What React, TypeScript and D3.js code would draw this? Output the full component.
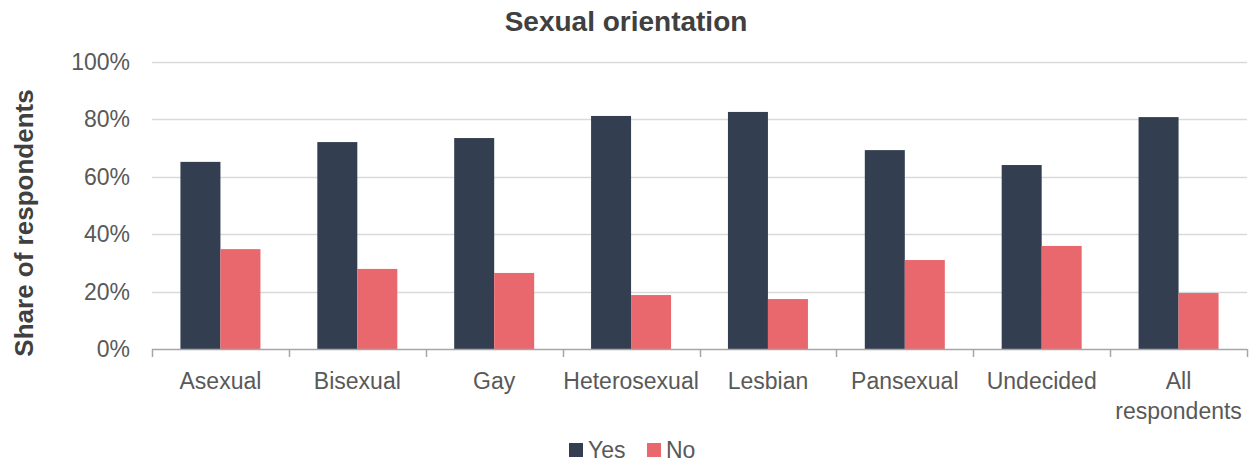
import { useEffect, useRef } from "react";
import * as d3 from "d3";

const WIDTH = 1256;
const HEIGHT = 463;
const MARGIN = { top: 62, right: 9, bottom: 114, left: 152 };

const categories = [
  "Asexual",
  "Bisexual",
  "Gay",
  "Heterosexual",
  "Lesbian",
  "Pansexual",
  "Undecided",
  "All respondents",
];
const yesValues = [65.2, 72.1, 73.5, 81.2, 82.6, 69.3, 64.1, 80.8];
const noValues = [34.8, 27.9, 26.5, 18.8, 17.4, 31.0, 35.9, 19.5];
const seriesNames = ["Yes", "No"];
const yTicks = [0, 20, 40, 60, 80, 100];

const COLORS: Record<string, string> = { Yes: "#333f50", No: "#e9686e" };
const FONT = "'Liberation Sans', Arial, sans-serif";
const TEXT_COLOR = "#595959";

export default function App() {
  const xAxisRef = useRef<SVGGElement>(null);
  const boundsWidth = WIDTH - MARGIN.left - MARGIN.right;
  const boundsHeight = HEIGHT - MARGIN.top - MARGIN.bottom;

  const xScale = d3.scaleBand().domain(categories).range([0, boundsWidth]);
  const groupWidth = 80;
  const xInner = d3
    .scaleBand()
    .domain(seriesNames)
    .range([(xScale.bandwidth() - groupWidth) / 2, (xScale.bandwidth() + groupWidth) / 2]);
  const yScale = d3.scaleLinear().domain([0, 100]).range([boundsHeight, 0]);

  useEffect(() => {
    document.body.style.margin = "0";
    const g = d3.select(xAxisRef.current);
    g.selectAll("*").remove();
    // category boundary ticks
    const bounds = d3.range(categories.length + 1).map((i) => i * xScale.step());
    g.append("line")
      .attr("x1", 0)
      .attr("x2", boundsWidth)
      .attr("y1", 0.5)
      .attr("y2", 0.5)
      .attr("stroke", "#a6a6a6")
      .attr("stroke-width", 1.5);
    g.selectAll("line.tick")
      .data(bounds)
      .join("line")
      .attr("class", "tick")
      .attr("x1", (d) => Math.round(d) + 0.5)
      .attr("x2", (d) => Math.round(d) + 0.5)
      .attr("y1", 0)
      .attr("y2", 8)
      .attr("stroke", "#a6a6a6")
      .attr("stroke-width", 1.5);
    g.selectAll("text.cat")
      .data(categories)
      .join("text")
      .attr("class", "cat")
      .attr("x", (d) => (xScale(d) ?? 0) + xScale.bandwidth() / 2)
      .attr("y", 40)
      .attr("text-anchor", "middle")
      .attr("font-family", FONT)
      .attr("font-size", 23)
      .attr("fill", TEXT_COLOR)
      .each(function (d) {
        const words = d === "All respondents" ? ["All", "respondents"] : [d];
        d3.select(this)
          .selectAll("tspan")
          .data(words)
          .join("tspan")
          .attr("x", (xScale(d) ?? 0) + xScale.bandwidth() / 2)
          .attr("dy", (_, i) => (i === 0 ? 0 : 30))
          .text((w) => w);
      });
  }, []);

  return (
    <svg width={WIDTH} height={HEIGHT} style={{ display: "block" }}>
      <text
        x={626}
        y={31}
        textAnchor="middle"
        fontFamily={FONT}
        fontWeight="bold"
        fontSize={28}
        fill="#404040"
      >
        Sexual orientation
      </text>
      <text
        transform={`translate(33, 223) rotate(-90)`}
        textAnchor="middle"
        fontFamily={FONT}
        fontWeight="bold"
        fontSize={26}
        fill="#404040"
      >
        Share of respondents
      </text>
      <g transform={`translate(${MARGIN.left},${MARGIN.top})`}>
        {yTicks.map((t) => (
          <g key={t}>
            {t > 0 && (
              <line
                x1={0}
                x2={boundsWidth}
                y1={Math.round(yScale(t)) + 0.5}
                y2={Math.round(yScale(t)) + 0.5}
                stroke="#d9d9d9"
                strokeWidth={1.5}
              />
            )}
            <text
              x={-22}
              y={yScale(t)}
              dy="0.35em"
              textAnchor="end"
              fontFamily={FONT}
              fontSize={23}
              fill={TEXT_COLOR}
            >
              {t}%
            </text>
          </g>
        ))}
        {categories.map((c, i) => (
          <g key={c} transform={`translate(${xScale(c)},0)`}>
            {seriesNames.map((s) => {
              const v = s === "Yes" ? yesValues[i] : noValues[i];
              return (
                <rect
                  key={s}
                  x={xInner(s)}
                  width={xInner.bandwidth()}
                  y={yScale(v)}
                  height={boundsHeight - yScale(v)}
                  fill={COLORS[s]}
                />
              );
            })}
          </g>
        ))}
        <g ref={xAxisRef} transform={`translate(0,${boundsHeight})`} />
      </g>
      <g transform="translate(569,443)">
        {seriesNames.map((s, i) => (
          <g key={s} transform={`translate(${i * 78},0)`}>
            <rect width={14} height={14} fill={COLORS[s]} />
            <text
              x={19}
              y={7}
              dy="0.35em"
              fontFamily={FONT}
              fontSize={23}
              fill={TEXT_COLOR}
            >
              {s}
            </text>
          </g>
        ))}
      </g>
    </svg>
  );
}
